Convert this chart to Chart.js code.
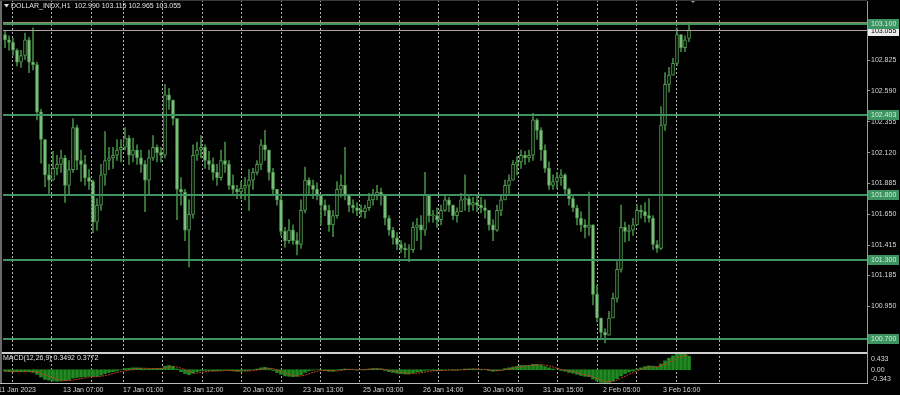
<!DOCTYPE html>
<html>
<head>
<meta charset="utf-8">
<script src="https://cdn.jsdelivr.net/npm/chart.js@4.4.1/dist/chart.umd.min.js"></script>
<style>
html,body{margin:0;padding:0;background:#000;overflow:hidden}
canvas{display:block}
</style>
</head>
<body>
<canvas id="c" width="900" height="395"></canvas>
<script>
// DOLLAR_INDX H1, one slot = a few hourly bars
const opens = [
  103.02,102.98,102.96,102.90,102.81,102.86,102.98,102.81,102.79,102.43,
  102.22,101.95,101.91,102.00,102.03,102.08,101.87,101.99,102.31,102.06,
  102.03,101.93,101.90,101.59,101.72,101.95,102.06,102.08,102.10,102.14,
  102.16,102.23,102.10,102.14,102.08,102.03,101.91,102.08,102.16,102.12,
  102.10,102.56,102.52,102.38,101.84,101.82,101.53,101.65,102.10,102.14,
  102.16,102.06,102.03,101.97,101.93,102.06,102.03,101.87,101.84,101.82,
  101.85,101.87,101.91,101.97,102.03,102.18,102.14,101.97,101.84,101.76,
  101.52,101.45,101.53,101.45,101.42,101.68,101.91,101.87,101.84,101.80,
  101.72,101.68,101.57,101.64,101.84,101.87,101.80,101.72,101.70,101.68,
  101.67,101.70,101.76,101.80,101.82,101.80,101.62,101.53,101.47,101.42,
  101.39,101.38,101.38,101.55,101.57,101.53,101.80,101.64,101.64,101.61,
  101.68,101.76,101.72,101.64,101.67,101.76,101.77,101.72,101.74,101.72,
  101.70,101.68,101.57,101.53,101.68,101.76,101.87,101.91,102.03,102.05,
  102.10,102.08,102.10,102.37,102.29,102.14,102.00,101.87,101.90,101.93,
  101.95,101.84,101.77,101.70,101.62,101.57,101.55,101.57,101.04,100.86,
  100.75,100.73,100.86,101.01,101.23,101.55,101.52,101.53,101.57,101.68,
  101.67,101.64,101.62,101.42,101.39,102.33,102.64,102.71,102.80,103.02,
  102.92,102.99]
const highs = [
  103.05,103.01,102.99,102.91,102.90,103.03,103.00,103.07,102.81,102.45,
  102.22,102.03,102.13,102.10,102.14,102.10,102.06,102.38,102.33,102.14,
  102.10,101.99,101.91,101.77,102.03,102.28,102.16,102.16,102.22,102.22,
  102.31,102.25,102.23,102.18,102.14,102.06,102.14,102.25,102.18,102.16,
  102.64,102.61,102.52,102.38,101.93,101.84,101.76,102.18,102.20,102.25,
  102.18,102.13,102.08,102.03,102.14,102.20,102.06,101.95,101.87,101.90,
  101.93,101.99,102.00,102.06,102.22,102.29,102.14,102.00,101.84,101.80,
  101.55,101.61,101.57,101.51,101.76,102.01,101.93,101.91,101.89,101.80,
  101.76,101.72,101.68,101.90,101.95,102.16,101.80,101.76,101.74,101.72,
  101.72,101.81,101.84,101.87,101.85,101.80,101.64,101.55,101.51,101.45,
  101.43,101.42,101.59,101.62,101.64,101.97,101.80,101.68,101.70,101.72,
  101.80,101.78,101.72,101.70,101.81,101.95,101.80,101.78,101.79,101.78,
  101.76,101.68,101.61,101.72,101.80,101.91,101.95,102.06,102.09,102.14,
  102.13,102.14,102.42,102.38,102.31,102.18,102.05,101.95,101.97,101.99,
  101.96,101.85,101.80,101.72,101.67,101.61,101.82,101.57,101.11,100.86,
  100.78,100.91,101.05,101.29,101.72,101.59,101.57,101.62,101.72,101.72,
  101.74,101.77,101.64,101.45,102.47,102.73,102.77,102.84,103.07,103.02,
  103.01,103.115]
const lows = [
  102.92,102.90,102.86,102.78,102.77,102.83,102.73,102.75,102.37,102.04,
  101.86,101.81,101.91,101.95,101.97,101.74,101.80,101.97,101.99,101.90,
  101.87,101.84,101.51,101.53,101.68,101.87,101.99,102.00,102.06,102.05,
  102.14,102.03,102.05,102.03,101.97,101.67,101.80,102.06,102.05,102.05,
  102.08,102.45,102.33,101.61,101.72,101.45,101.25,101.62,102.06,102.08,
  102.00,101.99,101.91,101.87,101.91,101.97,101.84,101.80,101.77,101.77,
  101.76,101.68,101.84,101.95,101.99,102.06,101.91,101.80,101.72,101.49,
  101.40,101.43,101.42,101.34,101.39,101.66,101.80,101.77,101.76,101.57,
  101.64,101.52,101.48,101.62,101.78,101.76,101.67,101.66,101.64,101.63,
  101.62,101.68,101.72,101.76,101.72,101.57,101.49,101.42,101.38,101.36,
  101.32,101.29,101.36,101.45,101.38,101.49,101.59,101.59,101.55,101.57,
  101.67,101.67,101.61,101.59,101.67,101.68,101.67,101.68,101.67,101.66,
  101.62,101.53,101.45,101.52,101.64,101.76,101.81,101.91,101.95,102.00,
  102.03,102.05,102.06,102.22,102.06,101.97,101.84,101.84,101.85,101.87,
  101.80,101.72,101.67,101.57,101.52,101.47,101.49,100.96,100.83,100.71,
  100.67,100.73,100.86,100.98,101.21,101.44,101.45,101.49,101.57,101.62,
  101.59,101.59,101.38,101.36,101.38,102.29,102.58,102.71,102.78,102.89,
  102.89,102.965]
const closes = [
  102.98,102.96,102.90,102.81,102.86,102.98,102.81,102.79,102.43,102.22,
  101.95,101.91,102.00,102.03,102.08,101.87,101.99,102.31,102.06,102.03,
  101.93,101.90,101.59,101.72,101.95,102.06,102.08,102.10,102.14,102.16,
  102.23,102.10,102.14,102.08,102.03,101.91,102.08,102.16,102.12,102.10,
  102.56,102.52,102.38,101.84,101.82,101.53,101.65,102.10,102.14,102.16,
  102.06,102.03,101.97,101.93,102.06,102.03,101.87,101.84,101.82,101.85,
  101.87,101.91,101.97,102.03,102.18,102.14,101.97,101.84,101.76,101.52,
  101.45,101.53,101.45,101.42,101.68,101.91,101.87,101.84,101.80,101.72,
  101.68,101.57,101.64,101.84,101.87,101.80,101.72,101.70,101.68,101.67,
  101.70,101.76,101.80,101.82,101.80,101.62,101.53,101.47,101.42,101.39,
  101.38,101.38,101.55,101.57,101.53,101.80,101.64,101.64,101.61,101.68,
  101.76,101.72,101.64,101.67,101.76,101.77,101.72,101.74,101.72,101.70,
  101.68,101.57,101.53,101.68,101.76,101.87,101.91,102.03,102.05,102.10,
  102.08,102.10,102.37,102.29,102.14,102.00,101.87,101.90,101.93,101.95,
  101.84,101.77,101.70,101.62,101.57,101.55,101.57,101.04,100.86,100.75,
  100.73,100.86,101.01,101.23,101.55,101.52,101.53,101.57,101.68,101.67,
  101.64,101.62,101.42,101.39,102.33,102.64,102.71,102.80,103.02,102.92,
  102.98,103.055]

// MACD(12,26,9): main (histogram) and signal
const macdMain = [
  -0.04,-0.05,-0.05,-0.05,-0.05,-0.05,-0.05,-0.07,-0.12,-0.19,
  -0.25,-0.27,-0.29,-0.30,-0.29,-0.28,-0.26,-0.22,-0.20,-0.19,
  -0.18,-0.17,-0.18,-0.17,-0.14,-0.10,-0.07,-0.05,-0.03,0.00,
  0.03,0.04,0.05,0.05,0.04,0.02,0.02,0.03,0.03,0.04,
  0.09,0.11,0.09,0.02,-0.05,-0.10,-0.13,-0.09,-0.05,-0.03,
  -0.02,-0.02,-0.03,-0.03,-0.02,-0.01,-0.02,-0.03,-0.04,-0.04,
  -0.03,-0.02,0.00,0.02,0.05,0.06,0.03,-0.02,-0.07,-0.12,
  -0.16,-0.17,-0.18,-0.17,-0.13,-0.07,-0.03,-0.01,0.00,-0.01,
  -0.02,-0.04,-0.04,-0.01,0.01,0.02,0.01,0.00,-0.01,0.00,
  0.01,0.02,0.03,0.03,0.02,-0.02,-0.05,-0.07,-0.09,-0.10,
  -0.11,-0.11,-0.08,-0.06,-0.05,-0.02,-0.01,-0.02,-0.03,-0.02,
  0.00,0.00,-0.01,-0.01,0.00,0.02,0.02,0.02,0.01,0.01,
  0.00,-0.02,-0.04,-0.03,-0.01,0.03,0.05,0.07,0.09,0.11,
  0.11,0.11,0.14,0.14,0.12,0.08,0.05,0.02,0.00,-0.02,
  -0.04,-0.07,-0.09,-0.12,-0.15,-0.17,-0.18,-0.24,-0.29,-0.33,
  -0.343,-0.33,-0.29,-0.23,-0.16,-0.10,-0.06,-0.03,0.02,0.05,
  0.08,0.10,0.09,0.07,0.15,0.23,0.30,0.36,0.433,0.42,
  0.40,0.349]
const macdSignal = [
  -0.03,-0.04,-0.04,-0.05,-0.05,-0.05,-0.05,-0.05,-0.06,-0.09,
  -0.13,-0.17,-0.21,-0.25,-0.27,-0.28,-0.28,-0.27,-0.25,-0.23,
  -0.21,-0.19,-0.18,-0.18,-0.17,-0.15,-0.13,-0.10,-0.07,-0.05,
  -0.03,-0.01,0.01,0.03,0.04,0.04,0.03,0.03,0.03,0.03,
  0.04,0.06,0.08,0.07,0.04,0.00,-0.04,-0.08,-0.09,-0.07,
  -0.05,-0.04,-0.03,-0.03,-0.03,-0.02,-0.02,-0.02,-0.03,-0.03,
  -0.03,-0.03,-0.02,-0.01,0.01,0.03,0.04,0.03,0.00,-0.04,
  -0.08,-0.12,-0.15,-0.16,-0.16,-0.14,-0.10,-0.07,-0.04,-0.02,
  -0.02,-0.02,-0.03,-0.03,-0.02,0.00,0.01,0.01,0.00,0.00,
  0.00,0.01,0.02,0.02,0.02,0.01,-0.01,-0.03,-0.05,-0.07,
  -0.09,-0.10,-0.10,-0.09,-0.08,-0.06,-0.04,-0.03,-0.02,-0.02,
  -0.02,-0.01,-0.01,-0.01,0.00,0.00,0.01,0.02,0.02,0.01,
  0.01,0.00,-0.02,-0.02,-0.02,0.00,0.02,0.04,0.06,0.08,
  0.10,0.11,0.11,0.12,0.13,0.12,0.10,0.07,0.04,0.01,
  -0.01,-0.03,-0.05,-0.08,-0.11,-0.13,-0.15,-0.19,-0.23,-0.27,
  -0.30,-0.31,-0.30,-0.27,-0.22,-0.17,-0.12,-0.07,-0.03,0.01,
  0.04,0.07,0.08,0.08,0.10,0.14,0.19,0.25,0.30,0.34,
  0.36,0.3772]

const timeLabels = ['11 Jan 2023','13 Jan 07:00','17 Jan 01:00','18 Jan 12:00','20 Jan 02:00','23 Jan 13:00',
                    '25 Jan 03:00','26 Jan 14:00','30 Jan 04:00','31 Jan 15:00','2 Feb 05:00','3 Feb 16:00']
const timeSlots = [-1.75,14.5,29.5,44.5,59.5,74.5,89.5,104.5,119.5,134.5,149.5,164.5]
const gridSlots = [1.75,11.5,21.5,29.5,39.25,49.25,59,69,78.75,88.5,98.5,108.25,118.25,128.25,138,148,157.75,167.75,178.5]
const priceTicks = [102.825,102.590,102.355,102.120,101.885,101.650,101.415,101.185,100.950,100.715]
const levelPrices = [103.100,102.403,101.800,101.300,100.700]
const bidPrice = 103.055
const macdTicks = [0.433,0,-0.343]
const macdTickText = ['0.433','0.00','-0.343']
const header = 'DOLLAR_INDX,H1  102.990 103.115 102.965 103.055'
const macdHeader = 'MACD(12,26,9) 0.3492 0.3772'

const FONT = '7px "Liberation Sans", Arial, sans-serif'
const TXT = '#d8d8d8'

const noPad = s => { s.paddingTop = 0; s.paddingBottom = 0; s.paddingLeft = 0; s.paddingRight = 0 }

const mt4 = {
  id: 'mt4',
  beforeDraw(chart) {
    const { ctx, width, height } = chart
    ctx.save()
    ctx.fillStyle = '#000'
    ctx.fillRect(0, 0, width, height)
    ctx.restore()
  },
  beforeDatasetsDraw(chart) {
    const { ctx, chartArea: a, scales: { x } } = chart
    ctx.save()
    ctx.strokeStyle = '#b4b4b4'
    ctx.lineWidth = 1
    ctx.setLineDash([2, 2])
    gridSlots.forEach(v => {
      const px = Math.round(x.getPixelForValue(v)) + 0.5
      ctx.beginPath(); ctx.moveTo(px, 0); ctx.lineTo(px, a.bottom); ctx.stroke()
    })
    ctx.restore()
  },
  afterDatasetsDraw(chart) {
    const { ctx, chartArea: a, scales: { x, y, ym } } = chart
    const line = (x1, y1, x2, y2) => { ctx.beginPath(); ctx.moveTo(x1, y1); ctx.lineTo(x2, y2); ctx.stroke() }
    ctx.save()

    // bid line
    const by = Math.round(y.getPixelForValue(bidPrice)) + 0.5
    ctx.strokeStyle = '#a6a6a6'; ctx.lineWidth = 1
    line(a.left, by, a.right, by)

    // horizontal levels
    levelPrices.forEach((p, i) => {
      const py = Math.round(y.getPixelForValue(p))
      if (i === 0) {
        ctx.strokeStyle = '#9a9466'; ctx.lineWidth = 1
        line(a.left, py - 1.5, a.right, py - 1.5)
      }
      ctx.strokeStyle = '#3f9461'; ctx.lineWidth = 2
      line(a.left, py, a.right, py)
    })

    // panel borders
    ctx.strokeStyle = '#cfcfcf'; ctx.lineWidth = 2
    line(0, Math.round(y.bottom), a.right, Math.round(y.bottom))
    ctx.strokeStyle = '#bdbdbd'; ctx.lineWidth = 1
    line(0, Math.round(ym.bottom) + 0.5, a.right + 1, Math.round(ym.bottom) + 0.5)

    // right price boxes
    ctx.font = FONT
    ctx.textBaseline = 'middle'
    ctx.textAlign = 'left'
    const box = (py, bg, fg, txt) => {
      ctx.fillStyle = bg; ctx.fillRect(a.right + 1, py - 5, 31, 10)
      ctx.fillStyle = fg; ctx.fillText(txt, a.right + 4, py + 0.5)
    }
    box(Math.round(by), '#ececec', '#000', bidPrice.toFixed(3))
    levelPrices.forEach(p => box(Math.round(y.getPixelForValue(p)), '#3c9462', '#d5eedd', p.toFixed(3)))

    // MACD scale labels
    ctx.fillStyle = TXT
    macdTicks.forEach((v, i) => {
      const py = Math.min(Math.max(ym.getPixelForValue(v), ym.top + 6), ym.bottom - 4)
      ctx.fillText(macdTickText[i], a.right + 4, py)
    })

    // window texts
    ctx.fillStyle = '#e4e4e4'
    ctx.beginPath(); ctx.moveTo(4, 4); ctx.lineTo(9, 4); ctx.lineTo(6.5, 7.5); ctx.closePath(); ctx.fill()
    ctx.fillText(header, 11, 6.5)
    ctx.fillText(macdHeader, 3, ym.top + 5)

    // chart shift marker
    const sx = x.getPixelForValue(172)
    ctx.fillStyle = '#9a9a9a'
    ctx.beginPath(); ctx.moveTo(sx - 3, 0); ctx.lineTo(sx + 3, 0); ctx.lineTo(sx, 3); ctx.closePath(); ctx.fill()

    // frame
    ctx.fillStyle = '#6a6a6a'
    ctx.fillRect(0, 0, 2, a.bottom)
    ctx.fillStyle = '#3a3a3a'
    ctx.fillRect(0, 0, a.right, 1)
    ctx.restore()
  }
}

new Chart(document.getElementById('c'), {
  type: 'bar',
  data: {
    datasets: [
      { label: 'wick', yAxisID: 'y', order: 3, grouped: false, barThickness: 1,
        data: highs.map((h, i) => ({ x: i, y: [lows[i], h] })),
        backgroundColor: '#3f873f', borderWidth: 0 },
      { label: 'body', yAxisID: 'y', order: 2, grouped: false, barThickness: 3, minBarLength: 1,
        data: opens.map((o, i) => ({ x: i, y: [o, closes[i]] })),
        backgroundColor: c => closes[c.dataIndex] >= opens[c.dataIndex] ? '#050505' : '#86c486',
        borderColor: '#559f55', borderWidth: 1, borderSkipped: false },
      { label: 'MACD', yAxisID: 'ym', order: 4, grouped: false, barThickness: 3,
        data: macdMain.map((v, i) => ({ x: i, y: v })),
        backgroundColor: '#1f8a1f', borderWidth: 0 },
      { type: 'line', label: 'Signal', yAxisID: 'ym', order: 1,
        data: macdSignal.map((v, i) => ({ x: i, y: v })),
        borderColor: '#c8402c', borderWidth: 1, borderDash: [2, 1], pointRadius: 0, tension: 0, fill: false }
    ]
  },
  options: {
    responsive: false, devicePixelRatio: 1, animation: false, events: [],
    layout: { padding: { left: 3, top: 1, right: 0, bottom: 0 } },
    plugins: { legend: { display: false }, tooltip: { enabled: false } },
    scales: {
      x: {
        type: 'linear', position: 'bottom', min: -0.5, max: 215.5, bounds: 'data', offset: false,
        grid: { display: false, drawTicks: false, offset: false }, border: { display: false },
        afterBuildTicks: s => { s.ticks = timeSlots.map(v => ({ value: v })) },
        afterFit: s => { s.height = 12; noPad(s) },
        ticks: { autoSkip: false, maxRotation: 0, minRotation: 0, align: 'start', padding: 3,
          color: TXT, font: { family: '"Liberation Sans", Arial, sans-serif', size: 7 },
          callback: (v, i) => timeLabels[i] }
      },
      y: {
        type: 'linear', position: 'right', stack: 'pane', stackWeight: 352,
        min: 100.5933, max: 103.2752, bounds: 'data',
        afterBuildTicks: s => { s.ticks = priceTicks.map(v => ({ value: v })) },
        afterFit: s => { s.width = 33; noPad(s) },
        grid: { drawOnChartArea: false, drawTicks: true, tickLength: 3, color: '#9a9a9a' },
        border: { display: true, color: '#9a9a9a' },
        ticks: { autoSkip: false, padding: 1, color: TXT,
          font: { family: '"Liberation Sans", Arial, sans-serif', size: 7 },
          callback: v => v.toFixed(3) }
      },
      ym: {
        type: 'linear', position: 'right', stack: 'pane', stackWeight: 30,
        min: -0.343, max: 0.433, bounds: 'data',
        afterFit: s => { s.width = 33; noPad(s) },
        grid: { drawOnChartArea: false, drawTicks: false },
        border: { display: true, color: '#9a9a9a' },
        ticks: { display: false }
      }
    }
  },
  plugins: [mt4]
})
</script>
</body>
</html>
